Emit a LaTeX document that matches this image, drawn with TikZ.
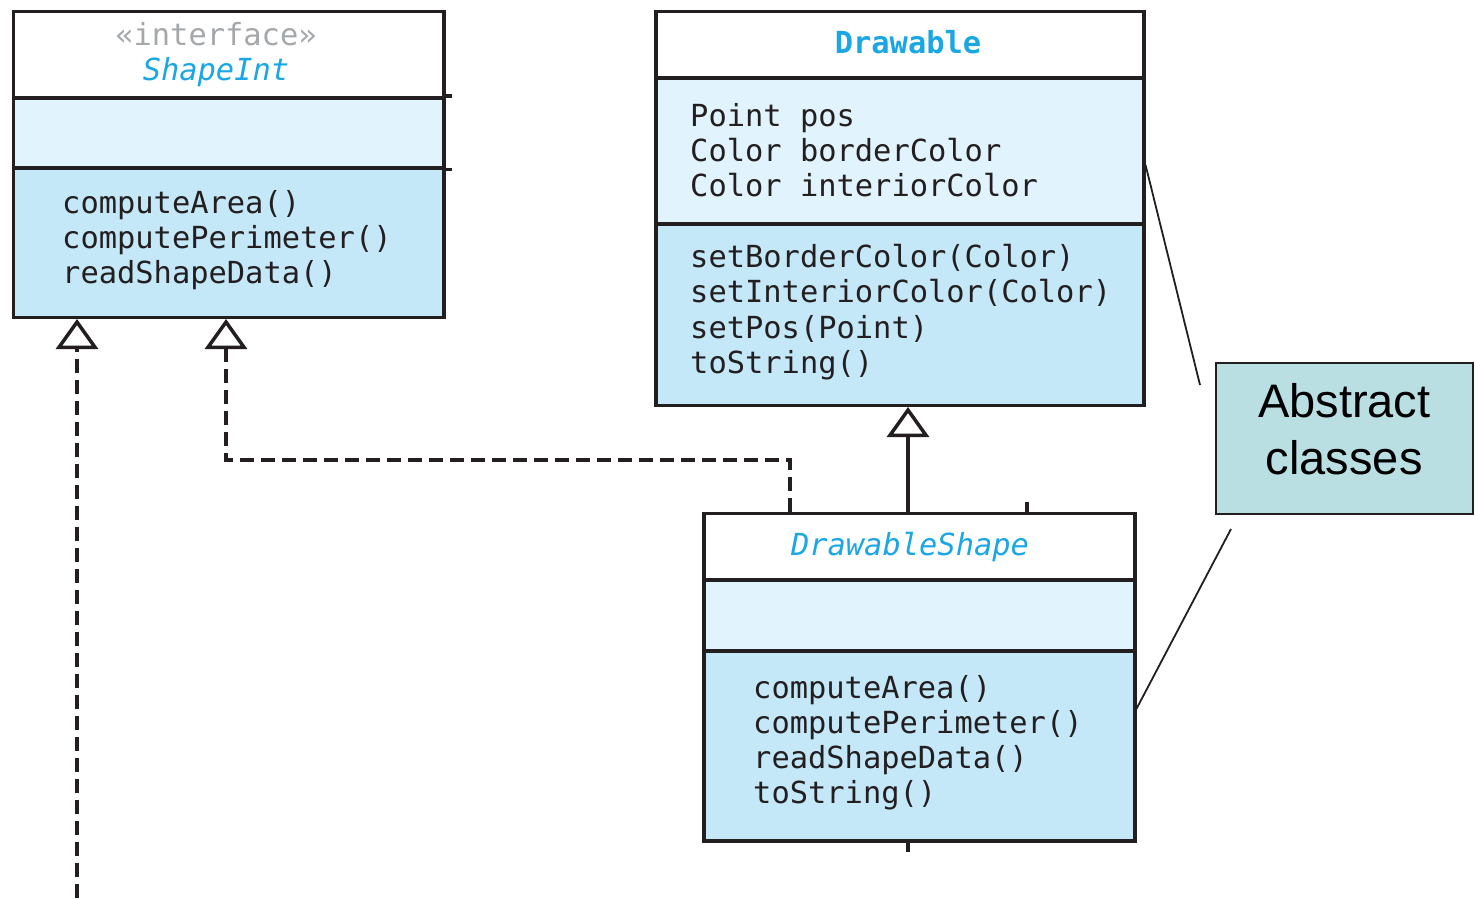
\documentclass[tikz,border=0pt]{standalone}
\usepackage{fontspec}
\setmainfont{Liberation Sans}
\newfontfamily\umlmono{DejaVu Sans Mono}
\usetikzlibrary{arrows.meta}

\definecolor{umlink}{HTML}{231F20}
\definecolor{attrfill}{HTML}{E1F3FD}
\definecolor{opfill}{HTML}{C5E8F8}
\definecolor{titleblue}{HTML}{1AA7E4}
\definecolor{stereogrey}{HTML}{A5A8AB}
\definecolor{notefill}{HTML}{B9DFE3}

\newcommand\umltext{\umlmono\fontsize{30.4pt}{35pt}\selectfont}

\begin{document}
\begin{tikzpicture}[x=1pt,y=-1pt,
  part/.style={draw=umlink, line width=3.5pt, rectangle, inner sep=0pt,
    anchor=north west},
  headpart/.style={part, fill=white},
  attrpart/.style={part, fill=attrfill},
  oppart/.style={part, fill=opfill},
  member/.style={anchor=base west, inner sep=0pt, text=umlink, font=\umltext},
  classname/.style={anchor=base, inner sep=0pt, text=titleblue, font=\umltext},
  stereotype/.style={anchor=base, inner sep=0pt, text=stereogrey, font=\umltext},
  hollow/.tip={Triangle[open, length=30pt, width=42pt]},
  generalization/.style={draw=umlink, line width=3.5pt, -{hollow}},
  realization/.style={draw=umlink, line width=3.5pt, dash pattern=on 14pt off 7pt, -{hollow}},
  stub/.style={draw=umlink, line width=3.5pt},
  callout/.style={draw=umlink, line width=1.8pt},
  notebox/.style={draw=umlink, line width=1.5pt, fill=notefill, rectangle,
    align=center, inner sep=0pt, text depth=18pt, font=\fontsize{47pt}{57pt}\selectfont}
]
\useasboundingbox (0,0) rectangle (1475,898);

% ---- interface ShapeInt ----
\node[headpart, minimum width=430.5pt, minimum height=86.5pt] (si-head) at (11.5,9.5) {};
\node[attrpart, minimum width=430.5pt, minimum height=70pt]   (si-attr) at (11.5,96) {};
\node[oppart,   minimum width=430.5pt, minimum height=149.5pt] (si-ops) at (11.5,166) {};
\draw[stub] (si-attr.north east) -- ++(6,0);
\draw[stub] (si-attr.south east) -- ++(6,0);
\node[stereotype] (si-stereo) at (216,45) {«interface»};
\node[classname, font=\umltext\itshape] (si-name) at (216,80) {ShapeInt};
\foreach \t [count=\i] in {computeArea(), computePerimeter(), readShapeData()}
  \node[member] (si-op\i) at (62,178+35*\i) {\t};

% ---- class Drawable ----
\node[headpart, minimum width=488pt, minimum height=66.5pt] (dr-head) at (654,9.5) {};
\node[attrpart, minimum width=488pt, minimum height=146pt]  (dr-attr) at (654,76) {};
\node[oppart,   minimum width=488pt, minimum height=181.5pt] (dr-ops) at (654,222) {};
\node[classname, font=\umltext\bfseries] (dr-name) at (908,53) {Drawable};
\foreach \t [count=\i] in {Point pos, Color borderColor, Color interiorColor}
  \node[member] (dr-attr\i) at (690,91+35*\i) {\t};
\foreach \t [count=\i] in {setBorderColor(Color), setInteriorColor(Color), setPos(Point), toString()}
  \node[member] (dr-op\i) at (690,231.5+35.5*\i) {\t};

% ---- abstract class DrawableShape ----
\node[headpart, minimum width=431pt, minimum height=66.5pt] (ds-head) at (702,511.5) {};
\node[attrpart, minimum width=431pt, minimum height=71pt]   (ds-attr) at (702,578) {};
\node[oppart,   minimum width=431pt, minimum height=190pt]  (ds-ops) at (702,649) {};
\node[classname, font=\umltext\itshape] (ds-name) at (910,555) {DrawableShape};
\foreach \t [count=\i] in {computeArea(), computePerimeter(), readShapeData(), toString()}
  \node[member] (ds-op\i) at (753,663+35*\i) {\t};

% ---- note ----
\node[notebox, minimum width=257pt, minimum height=151pt, anchor=north west]
  (note) at (1215,362) {Abstract\\classes};

% ---- connectors ----
\coordinate (solidx) at (908,0);
\coordinate (implx) at (790,0);
\coordinate (siarrowx) at (226,0);
\coordinate (bendy) at (0,460);
\coordinate (lowend) at (77,898);
\coordinate (tickx) at (1027,0);
\coordinate (bottomx) at (908,0);

\draw[generalization] (ds-head.north -| solidx) -- (dr-ops.south -| solidx);
\draw[realization] (ds-head.north -| implx) |- (bendy -| siarrowx) -- (si-ops.south -| siarrowx);
\draw[realization] (lowend) -- (si-ops.south -| lowend);
\draw[stub] (ds-head.north -| tickx) -- ++(0,-10);
\draw[stub] (ds-ops.south -| bottomx) -- ++(0,9);

% ---- callout lines ----
\coordinate (callA) at (1200,385);
\coordinate (callB) at (1231,529);
\draw[callout] ([yshift=-14pt]dr-attr.east) -- (callA);
\draw[callout] (callB) -- ([yshift=37pt]ds-ops.east);
\end{tikzpicture}
\end{document}
